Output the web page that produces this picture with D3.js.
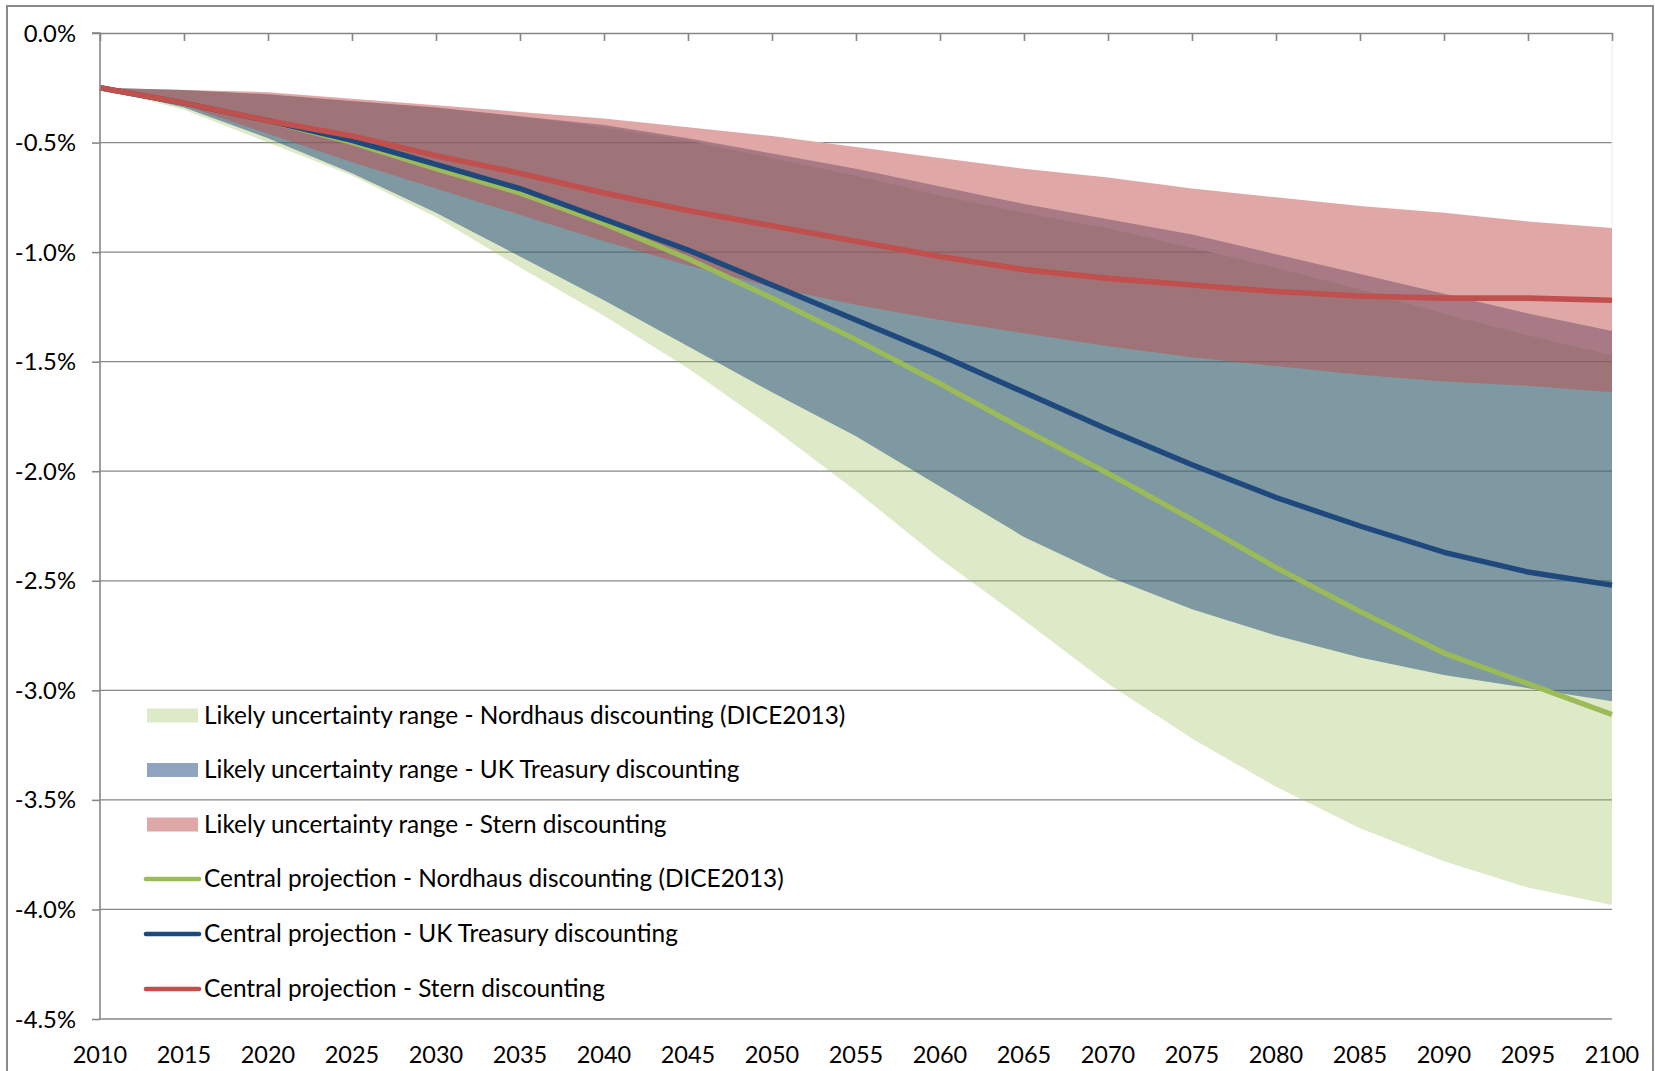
<!DOCTYPE html>
<html>
<head>
<meta charset="utf-8">
<script src="https://cdn.jsdelivr.net/npm/d3@7/dist/d3.min.js"></script>
<style>
  html, body { margin: 0; padding: 0; background: #ffffff; }
  svg { display: block; }
  text { font-family: "Lato", "Open Sans", sans-serif; fill: #000; }
</style>
</head>
<body>
<svg id="chart" width="1655" height="1071"></svg>
<script>
// Projection years (5-year steps)
const years = [2010, 2015, 2020, 2025, 2030, 2035, 2040, 2045, 2050, 2055,
               2060, 2065, 2070, 2075, 2080, 2085, 2090, 2095, 2100];

// Likely uncertainty ranges (% change), lower and upper bounds
const nordhausLow  = [-0.25, -0.35, -0.50, -0.65, -0.84, -1.07, -1.29, -1.53, -1.80, -2.09,
                      -2.40, -2.68, -2.97, -3.22, -3.44, -3.63, -3.78, -3.90, -3.98];
const nordhausHigh = [-0.25, -0.26, -0.28, -0.31, -0.34, -0.38, -0.43, -0.49, -0.57, -0.65,
                      -0.74, -0.82, -0.89, -0.98, -1.07, -1.17, -1.28, -1.38, -1.47];
const treasuryLow  = [-0.25, -0.34, -0.48, -0.64, -0.82, -1.02, -1.22, -1.43, -1.64, -1.84,
                      -2.07, -2.30, -2.48, -2.63, -2.75, -2.85, -2.93, -2.99, -3.05];
const treasuryHigh = [-0.25, -0.26, -0.28, -0.31, -0.34, -0.38, -0.42, -0.48, -0.55, -0.62,
                      -0.70, -0.78, -0.85, -0.92, -1.01, -1.10, -1.19, -1.28, -1.36];
const sternLow     = [-0.25, -0.33, -0.46, -0.59, -0.71, -0.83, -0.95, -1.06, -1.16, -1.24,
                      -1.31, -1.37, -1.43, -1.48, -1.52, -1.56, -1.59, -1.61, -1.64];
const sternHigh    = [-0.25, -0.26, -0.27, -0.30, -0.33, -0.36, -0.39, -0.43, -0.47, -0.52,
                      -0.57, -0.62, -0.66, -0.71, -0.75, -0.79, -0.82, -0.86, -0.89];

// Central projections (% change)
const nordhausCentral = [-0.25, -0.32, -0.40, -0.50, -0.62, -0.73, -0.87, -1.03, -1.21, -1.40,
                         -1.60, -1.81, -2.01, -2.22, -2.44, -2.64, -2.83, -2.97, -3.11];
const treasuryCentral = [-0.25, -0.32, -0.40, -0.49, -0.60, -0.71, -0.85, -0.99, -1.15, -1.31,
                         -1.47, -1.64, -1.81, -1.97, -2.12, -2.25, -2.37, -2.46, -2.52];
const sternCentral    = [-0.25, -0.32, -0.40, -0.47, -0.56, -0.64, -0.73, -0.81, -0.88, -0.95,
                         -1.02, -1.08, -1.12, -1.15, -1.18, -1.20, -1.21, -1.21, -1.22];

// Axis ticks
const yTicks = [0, -0.5, -1.0, -1.5, -2.0, -2.5, -3.0, -3.5, -4.0, -4.5];
const xTicks = years;

const legendLabels = [
  "Likely uncertainty range - Nordhaus discounting (DICE2013)",
  "Likely uncertainty range - UK Treasury discounting",
  "Likely uncertainty range - Stern discounting",
  "Central projection - Nordhaus discounting (DICE2013)",
  "Central projection - UK Treasury discounting",
  "Central projection - Stern discounting"
];

const GREEN = "#9bbb59", BLUE = "#1f497d", RED = "#c0504d";
const GRID = "#878787";

const svg = d3.select("#chart");

// Outer chart frame
svg.append("rect")
  .attr("x", 7).attr("y", 6).attr("width", 1646).attr("height", 1110)
  .attr("fill", "none").attr("stroke", "#8a8a8a").attr("stroke-width", 2);

const x = d3.scaleLinear().domain([2010, 2100]).range([100, 1612]);
const y = d3.scaleLinear().domain([0, -4.5]).range([33, 1019]);

// Horizontal gridlines
svg.append("g").selectAll("line")
  .data(yTicks.filter(v => v !== 0))
  .join("line")
  .attr("x1", x(2010)).attr("x2", x(2100))
  .attr("y1", d => y(d)).attr("y2", d => y(d))
  .attr("stroke", GRID).attr("stroke-width", 1.3);

const band = (lo, hi) => d3.area()
  .x((d, i) => x(years[i]))
  .y0((d, i) => y(lo[i]))
  .y1((d, i) => y(hi[i]));

// Nordhaus range
svg.append("path")
  .attr("d", band(nordhausLow, nordhausHigh)(years))
  .attr("fill", GREEN).attr("fill-opacity", 0.33);

// Background fill between Nordhaus upper bound and Stern upper bound
svg.append("path")
  .attr("d", band(nordhausHigh, sternHigh)(years))
  .attr("fill", "#ffffff");

// UK Treasury range
svg.append("path")
  .attr("d", band(treasuryLow, treasuryHigh)(years))
  .attr("fill", BLUE).attr("fill-opacity", 0.5);

// Stern range
svg.append("path")
  .attr("d", band(sternLow, sternHigh)(years))
  .attr("fill", RED).attr("fill-opacity", 0.5);

// Faint right edge of the plot area above the ranges
svg.append("line")
  .attr("x1", x(2100)).attr("x2", x(2100))
  .attr("y1", y(0) + 8).attr("y2", y(sternHigh[sternHigh.length - 1]))
  .attr("stroke", "#f1eaee").attr("stroke-width", 1);

// Central projection lines
const line = vals => d3.line()
  .x((d, i) => x(years[i]))
  .y((d, i) => y(vals[i]))(years);

[[nordhausCentral, GREEN, 5.2], [treasuryCentral, BLUE, 5.4], [sternCentral, RED, 5.6]]
  .forEach(([vals, col, w]) => {
    svg.append("path")
      .attr("d", line(vals))
      .attr("fill", "none").attr("stroke", col)
      .attr("stroke-width", w).attr("stroke-linejoin", "round");
  });

// Axes: vertical axis line and left ticks
const yAxis = d3.axisLeft(y).tickValues(yTicks).tickSize(8).tickFormat("");
const gy = svg.append("g").attr("transform", `translate(${x(2010)},0)`).call(yAxis);
gy.select(".domain").attr("stroke", GRID).attr("stroke-width", 1.6).attr("d", `M-8,${y(0)}H0V${y(-4.5)}`);
gy.selectAll(".tick line").attr("stroke", GRID).attr("stroke-width", 1.6);

// Top horizontal axis at 0% with ticks pointing down
const xAxis = d3.axisTop(x).tickValues(xTicks).tickSizeInner(-8).tickSizeOuter(0).tickFormat("");
const gx = svg.append("g").attr("transform", `translate(0,${y(0)})`).call(xAxis);
gx.select(".domain").attr("stroke", GRID).attr("stroke-width", 1.6);
gx.selectAll(".tick line").attr("stroke", GRID).attr("stroke-width", 1.6);

// Y tick labels
svg.append("g").selectAll("text")
  .data(yTicks)
  .join("text")
  .attr("x", 76).attr("y", d => y(d) + 8.5)
  .attr("text-anchor", "end")
  .style("font-size", "23.8px")
  .text(d => d.toFixed(1) + "%");

// X tick labels along the bottom
svg.append("g").selectAll("text")
  .data(xTicks)
  .join("text")
  .attr("x", d => x(d)).attr("y", 1063)
  .attr("text-anchor", "middle")
  .style("font-size", "23.5px")
  .text(d => d);

// Legend
const rowY = [715.5, 770, 824.5, 879, 934, 989];
const lg = svg.append("g");
const swatches = [
  { fill: GREEN, op: 0.33 },
  { fill: BLUE, op: 0.5 },
  { fill: RED, op: 0.5 }
];
swatches.forEach((s, i) => {
  lg.append("rect")
    .attr("x", 147).attr("y", rowY[i] - 7).attr("width", 51).attr("height", 14)
    .attr("fill", s.fill).attr("fill-opacity", s.op);
});
[GREEN, BLUE, RED].forEach((c, i) => {
  lg.append("line")
    .attr("x1", 146).attr("x2", 199)
    .attr("y1", rowY[i + 3]).attr("y2", rowY[i + 3])
    .attr("stroke", c).attr("stroke-width", 4.6).attr("stroke-linecap", "round");
});
lg.selectAll("text")
  .data(legendLabels)
  .join("text")
  .attr("x", 204).attr("y", (d, i) => rowY[i] + 8.4)
  .style("font-size", "24.4px")
  .text(d => d);
</script>
</body>
</html>
